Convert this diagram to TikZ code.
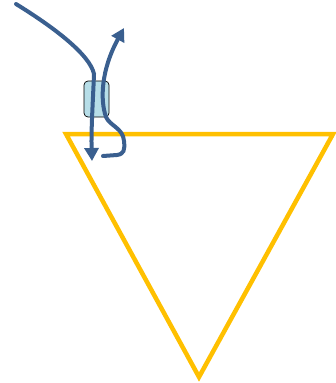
\documentclass[tikz,border=0pt]{standalone}
\usetikzlibrary{arrows.meta}
\definecolor{flowblue}{HTML}{3A5F8F}
\definecolor{boxfill}{HTML}{B7DEE8}
\definecolor{triyellow}{HTML}{FFC000}
\begin{document}
\begin{tikzpicture}[x=1pt,y=-1pt,
  flow/.style={draw=flowblue,line width=4pt,line cap=round,-{Triangle[length=13pt,width=14pt]}},
  pad/.style={draw=black,line width=0.7pt,fill=boxfill,rounded corners=4pt,minimum width=25pt,minimum height=36pt,inner sep=0pt},
  tri/.style={draw=triyellow,line width=4.5pt,line join=miter}]
\useasboundingbox (0,0) rectangle (336,383);
\coordinate (t1) at (66,134);
\coordinate (t2) at (333,134);
\coordinate (t3) at (199,377);
\draw[tri] (t1) -- (t2) -- (t3) -- cycle;
\node[pad] (box) at (96.5,99) {};
\coordinate (s1) at (16,4);
\coordinate (k1) at (94,74);
\coordinate (e1) at (92,161);
\coordinate (s2) at (103,156);
\coordinate (e2) at (124,28);
\draw[flow] (s1) .. controls (55,28) and (90,55) .. (k1) .. controls (93,100) and (91,130) .. (e1);
\draw[flow] (s2) -- (117,155) .. controls (124,154) and (125,150) .. (124,141) .. controls (123,128) and (110,126) .. (106,117) .. controls (100,100) and (101,70) .. (e2);
\end{tikzpicture}
\end{document}
